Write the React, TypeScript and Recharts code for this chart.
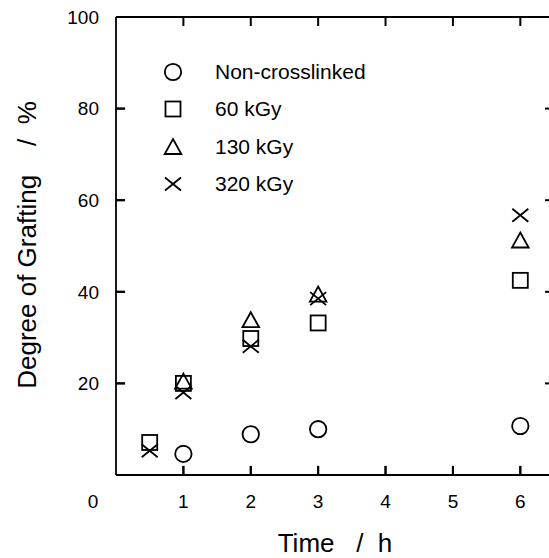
import { ScatterChart, Scatter, XAxis, YAxis, Legend, Label, ReferenceLine } from 'recharts';

const timesH = [0.5, 1, 2, 3, 6];
const nonCrosslinked = [null, 4.6, 8.9, 10.0, 10.7];
const gy60 = [7.1, 20.0, 29.8, 33.2, 42.5];
const gy130 = [null, 20.4, 33.8, 39.4, 51.2];
const gy320 = [5.3, 18.0, 28.1, 38.5, 56.7];

const xTicks = [0, 1, 2, 3, 4, 5, 6];
const yTicks = [0, 20, 40, 60, 80, 100];
const seriesNames = ['Non-crosslinked', '60 kGy', '130 kGy', '320 kGy'];
const markerKinds = ['circle', 'square', 'triangle', 'cross'];

const FONT = '"Liberation Sans", Arial, Helvetica, sans-serif';
const SW = 1.8;
const X_MAX = 6.5;
const Y_MAX = 100;
const TICK_PX = 9;
// same inward tick length in axis units (for reference-line ticks)
const TICK_X = 0.135;
const TICK_Y = 2;
const lineStyle = { stroke: '#000', strokeWidth: SW };
const tickStyle = { stroke: '#000', strokeWidth: 2 };

const toPoints = (vals: (number | null)[]) =>
  timesH.map((t, i) => ({ t, v: vals[i] })).filter((p) => p.v != null);

const Marker = ({ kind, cx, cy }: { kind: string; cx: number; cy: number }) => {
  const common = { fill: 'none', stroke: '#000', strokeWidth: SW };
  if (kind === 'circle') return <circle cx={cx} cy={cy} r={8.2} {...common} />;
  if (kind === 'square') return <rect x={cx - 7.5} y={cy - 7.5} width={15} height={15} {...common} />;
  if (kind === 'triangle')
    return <polygon points={`${cx},${cy - 8} ${cx + 8.3},${cy + 7} ${cx - 8.3},${cy + 7}`} {...common} />;
  return (
    <path
      d={`M${cx - 8},${cy - 6.5}L${cx + 8},${cy + 6.5}M${cx - 8},${cy + 6.5}L${cx + 8},${cy - 6.5}`}
      {...common}
    />
  );
};

const BottomTick = (props: any) => {
  const { x, y, payload } = props;
  const zero = payload.value === 0;
  return (
    <text x={zero ? x - 23 : x} y={y + 20} dy="0.71em" textAnchor="middle" fontSize={19} fontFamily={FONT} fill="#000">
      {payload.value}
    </text>
  );
};

const LeftTick = (props: any) => {
  const { x, y, payload } = props;
  if (payload.value === 0) return <g />;
  return (
    <text x={x - 17} y={y} dy="0.36em" textAnchor="end" fontSize={19} fontFamily={FONT} fill="#000">
      {payload.value}
    </text>
  );
};

const NoLabel = () => <g />;

const renderLegend = () => (
  <div style={{ fontFamily: FONT, fontSize: 21, color: '#000' }}>
    {seriesNames.map((n, i) => (
      <div key={n} style={{ display: 'flex', alignItems: 'center', height: 37.5 }}>
        <svg width={26} height={26}>
          <Marker kind={markerKinds[i]} cx={13} cy={13} />
        </svg>
        <span style={{ marginLeft: 29 }}>{n}</span>
      </div>
    ))}
  </div>
);

const series = [nonCrosslinked, gy60, gy130, gy320];
const innerX = xTicks.filter((v) => v > 0);
const innerY = yTicks.filter((v) => v > 0 && v < Y_MAX);

// tick positions on the frame, drawn as short inward strokes by a scatter shape
const frameTicks = [
  ...innerX.map((t) => ({ t, v: 0, side: 'b' })),
  ...innerX.map((t) => ({ t, v: Y_MAX, side: 't' })),
  ...innerY.map((v) => ({ t: 0, v, side: 'l' })),
  ...innerY.map((v) => ({ t: X_MAX, v, side: 'r' })),
];

const FrameTick = (p: any) => {
  const { cx, cy, payload } = p;
  const side = payload?.side;
  let d = '';
  if (side === 'b') d = `M${cx},${cy}v${-TICK_PX}`;
  else if (side === 't') d = `M${cx},${cy}v${TICK_PX}`;
  else if (side === 'l') d = `M${cx},${cy}h${TICK_PX}`;
  else d = `M${cx},${cy}h${-TICK_PX}`;
  return <path d={d} fill="none" {...tickStyle} />;
};

export default function App() {
  return (
    <div style={{ position: 'fixed', left: 0, top: 0, background: '#fff' }}>
      <ScatterChart width={570} height={558} margin={{ top: 16, right: 0, bottom: 0, left: 0 }}>
        <XAxis
          xAxisId="b"
          type="number"
          dataKey="t"
          domain={[0, X_MAX]}
          ticks={xTicks}
          interval={0}
          height={83}
          tickSize={0}
          tickMargin={0}
          tickLine={false}
          tick={<BottomTick />}
          axisLine={lineStyle}
        >
          <Label
            content={(p: any) => {
              const vb = p.viewBox;
              return (
                <text x={vb.x + vb.width / 2} y={vb.y + 77} textAnchor="middle" fontSize={26} fontFamily={FONT} fill="#000">
                  {'Time\u00A0\u00A0\u00A0/\u00A0\u00A0h'}
                </text>
              );
            }}
          />
        </XAxis>
        <XAxis
          xAxisId="t"
          orientation="top"
          type="number"
          dataKey="t"
          domain={[0, X_MAX]}
          ticks={xTicks}
          height={1}
          tickLine={false}
          tick={<NoLabel />}
          axisLine={lineStyle}
        />
        <YAxis
          yAxisId="l"
          type="number"
          dataKey="v"
          domain={[0, Y_MAX]}
          ticks={yTicks}
          interval={0}
          width={116}
          tickSize={0}
          tickMargin={0}
          tickLine={false}
          tick={<LeftTick />}
          axisLine={lineStyle}
        >
          <Label
            content={(p: any) => {
              const vb = p.viewBox;
              const cx = vb.x + 36;
              const cy = 245;
              return (
                <text
                  x={cx}
                  y={cy}
                  transform={`rotate(-90, ${cx}, ${cy})`}
                  textAnchor="middle"
                  fontSize={26}
                  fontFamily={FONT}
                  fill="#000"
                >
                  {'Degree of Grafting\u00A0\u00A0\u00A0\u00A0/\u00A0\u00A0%'}
                </text>
              );
            }}
          />
        </YAxis>
        <YAxis
          yAxisId="r"
          orientation="right"
          type="number"
          dataKey="v"
          domain={[0, Y_MAX]}
          ticks={yTicks}
          width={16}
          tickLine={false}
          tick={<NoLabel />}
          axisLine={lineStyle}
        />
        <Legend
          layout="vertical"
          align="center"
          verticalAlign="middle"
          content={renderLegend}
          wrapperStyle={{ left: 160, top: 53, width: 260, height: 150 }}
        />
        {innerX.map((v) => (
          <ReferenceLine
            key={`b${v}`}
            xAxisId="b"
            yAxisId="l"
            segment={[{ x: v, y: 0 }, { x: v, y: TICK_Y }]}
            ifOverflow="visible"
            {...tickStyle}
          />
        ))}
        {innerY.map((v) => (
          <ReferenceLine
            key={`l${v}`}
            xAxisId="b"
            yAxisId="l"
            segment={[{ x: 0, y: v }, { x: TICK_X, y: v }]}
            ifOverflow="visible"
            {...tickStyle}
          />
        ))}
        {series.map((vals, i) => (
          <Scatter
            key={seriesNames[i]}
            name={seriesNames[i]}
            xAxisId="b"
            yAxisId="l"
            data={toPoints(vals)}
            isAnimationActive={false}
            shape={(p: any) => <Marker kind={markerKinds[i]} cx={p.cx} cy={p.cy} />}
          />
        ))}
        <Scatter
          name="frame-ticks"
          xAxisId="b"
          yAxisId="l"
          data={frameTicks}
          isAnimationActive={false}
          legendType="none"
          shape={FrameTick}
        />
        {/* mirror axes (top/right) need a series bound to them to be drawn */}
        <Scatter
          xAxisId="t"
          yAxisId="r"
          data={toPoints(gy60)}
          isAnimationActive={false}
          legendType="none"
          shape={() => <g />}
        />
      </ScatterChart>
    </div>
  );
}
